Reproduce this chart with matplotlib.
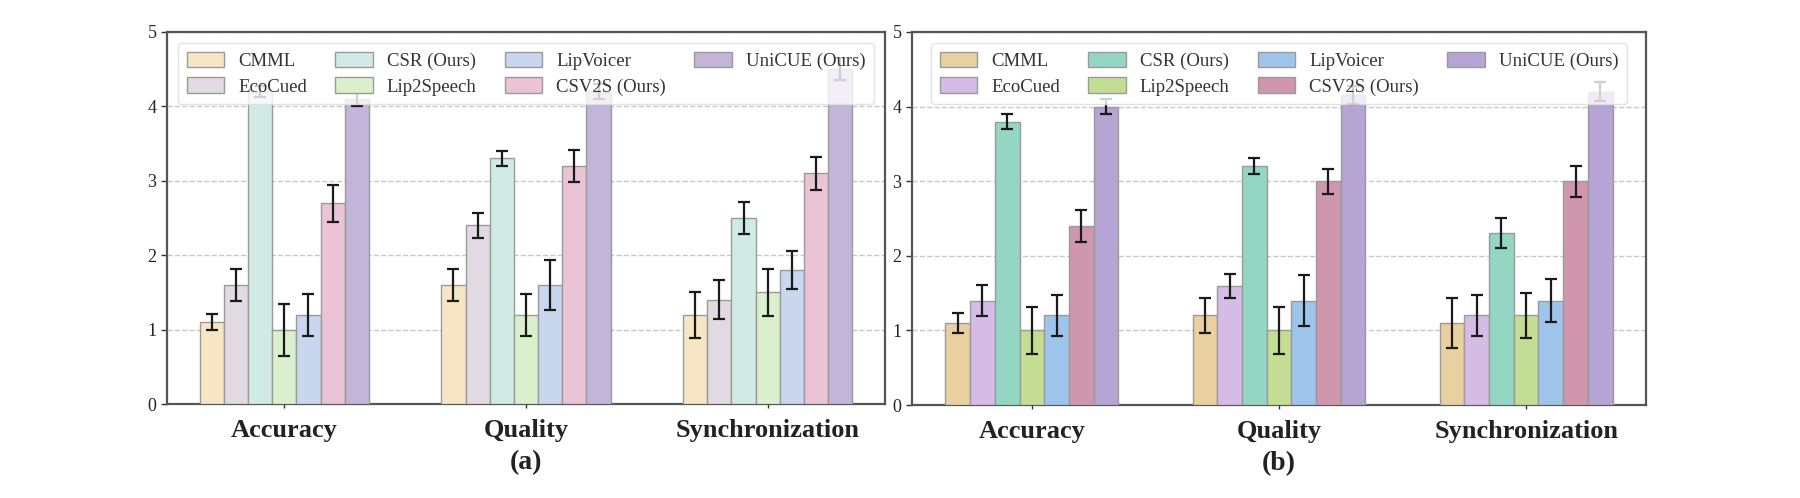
import matplotlib
matplotlib.use("Agg")
import matplotlib.pyplot as plt
import numpy as np

plt.rcParams['font.family'] = ['Liberation Serif', 'DejaVu Serif']

metrics = ["Accuracy", "Quality", "Synchronization"]
methods = ["CMML", "EcoCued", "CSR (Ours)", "Lip2Speech", "LipVoicer", "CSV2S (Ours)", "UniCUE (Ours)"]

# Panel (a): means per method over [Accuracy, Quality, Synchronization]
a_cmml = [1.1, 1.6, 1.2]
a_ecocued = [1.6, 2.4, 1.4]
a_csr = [4.2, 3.3, 2.5]
a_lip2speech = [1.0, 1.2, 1.5]
a_lipvoicer = [1.2, 1.6, 1.8]
a_csv2s = [2.7, 3.2, 3.1]
a_unicue = [4.1, 4.2, 4.5]
# Panel (a): error half-widths
a_cmml_err = [0.11, 0.22, 0.31]
a_ecocued_err = [0.22, 0.17, 0.26]
a_csr_err = [0.07, 0.10, 0.22]
a_lip2speech_err = [0.35, 0.28, 0.32]
a_lipvoicer_err = [0.28, 0.33, 0.26]
a_csv2s_err = [0.25, 0.21, 0.22]
a_unicue_err = [0.10, 0.10, 0.15]

# Panel (b): means
b_cmml = [1.1, 1.2, 1.1]
b_ecocued = [1.4, 1.6, 1.2]
b_csr = [3.8, 3.2, 2.3]
b_lip2speech = [1.0, 1.0, 1.2]
b_lipvoicer = [1.2, 1.4, 1.4]
b_csv2s = [2.4, 3.0, 3.0]
b_unicue = [4.0, 4.15, 4.2]
# Panel (b): error half-widths
b_cmml_err = [0.13, 0.24, 0.33]
b_ecocued_err = [0.21, 0.16, 0.28]
b_csr_err = [0.10, 0.11, 0.20]
b_lip2speech_err = [0.32, 0.32, 0.30]
b_lipvoicer_err = [0.27, 0.34, 0.29]
b_csv2s_err = [0.22, 0.17, 0.21]
b_unicue_err = [0.10, 0.12, 0.13]

colors_a = ["#F7E6C4", "#E2DAE3", "#D2EAE5", "#DAEFCB", "#C8D6EE", "#EAC3D5", "#C2B5D7"]
colors_b = ["#E8D0A0", "#D5BCE5", "#92D6C3", "#C3DE94", "#9EC4EC", "#D096AE", "#B5A4D4"]

means_a = [a_cmml, a_ecocued, a_csr, a_lip2speech, a_lipvoicer, a_csv2s, a_unicue]
errs_a = [a_cmml_err, a_ecocued_err, a_csr_err, a_lip2speech_err, a_lipvoicer_err, a_csv2s_err, a_unicue_err]
means_b = [b_cmml, b_ecocued, b_csr, b_lip2speech, b_lipvoicer, b_csv2s, b_unicue]
errs_b = [b_cmml_err, b_ecocued_err, b_csr_err, b_lip2speech_err, b_lipvoicer_err, b_csv2s_err, b_unicue_err]

W, H = 1800, 498
fig = plt.figure(figsize=(W / 100, H / 100), dpi=100)
ax1 = fig.add_axes([167 / W, 1 - 404 / H, (885 - 167) / W, (404 - 32) / H])
ax2 = fig.add_axes([912 / W, 1 - 405 / H, (1646 - 912) / W, (405 - 32) / H])

x = np.arange(len(metrics))
bw = 0.1


def draw(ax, means, errs, colors, tag):
    n = len(methods)
    for i, (m, e, c, lab) in enumerate(zip(means, errs, colors, methods)):
        pos = x + (i - (n - 1) / 2) * bw
        ax.bar(pos, m, bw, yerr=e, color=c, edgecolor="#9a9a9a", linewidth=1.0,
               label=lab, capsize=4.5,
               error_kw=dict(ecolor="#1a1a1a", elinewidth=1.6, capthick=1.6), zorder=3)
    ax.set_ylim(0, 5)
    ax.set_yticks([0, 1, 2, 3, 4, 5])
    ax.set_xticks(x)
    ax.set_xticklabels(metrics, fontsize=19, fontweight="bold")
    ax.tick_params(axis="y", labelsize=13, length=4, width=1, colors="#333333")
    ax.tick_params(axis="x", length=3, width=1, pad=8, colors="#333333")
    for lbl in ax.get_xticklabels() + ax.get_yticklabels():
        lbl.set_color("#222222")
    ax.grid(axis="y", linestyle="--", color="#c8c8c8", linewidth=1.0, zorder=0)
    ax.set_axisbelow(True)
    for s in ax.spines.values():
        s.set_color("#555555")
        s.set_linewidth(1.6)
    leg = ax.legend(ncol=4, loc="upper center", bbox_to_anchor=(0.5, 0.995),
                    fontsize=13.5, frameon=True, framealpha=0.8, edgecolor="#dddddd",
                    handlelength=2.0, handleheight=0.9, columnspacing=1.5,
                    labelspacing=0.4, borderpad=0.45, handletextpad=0.75)
    for t in leg.get_texts():
        t.set_color("#333333")
    ax.text(0.5, -0.158, tag, transform=ax.transAxes, ha="center", va="center",
            fontsize=20, fontweight="bold", color="#222222")


draw(ax1, means_a, errs_a, colors_a, "(a)")
draw(ax2, means_b, errs_b, colors_b, "(b)")

fig.savefig("out.png", dpi=100)
